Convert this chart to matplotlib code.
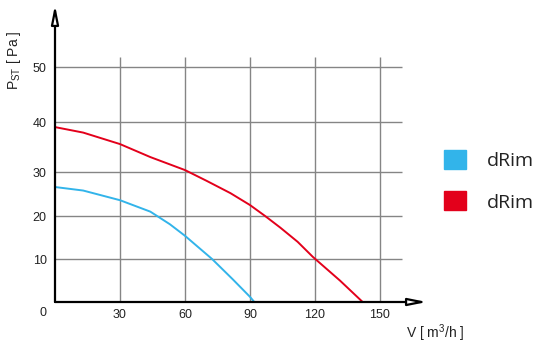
import numpy as np
import matplotlib
matplotlib.use('Agg')
import matplotlib.pyplot as plt
from matplotlib.patches import Patch

# Kurven (V in m3/h, P in Pa)
red_v = [0, 13, 30, 44, 60, 70, 81, 90, 97, 104, 112, 119, 131.5, 142]
red_p = [39.0, 37.9, 35.6, 33.0, 30.4, 28.0, 25.2, 22.5, 20.0, 17.3, 14.0, 10.5, 5.0, 0]
blue_v = [0, 13, 30, 44, 53, 60, 72.5, 82, 90, 92]
blue_p = [26.6, 25.8, 23.6, 21.0, 18.1, 15.4, 10.0, 5.3, 1.2, 0]

series_names = ['dRim', 'dRim']
series_colors = ['#32b4ea', '#e3001b']

x_ticks = [30, 60, 90, 120, 150]
y_ticks = [10, 20, 30, 40, 50]

# the drawing has uneven spacing on the P axis
y_vals = [0, 10, 20, 30, 40, 50, 60, 70]
y_pos = [0, 43, 86, 130, 180, 235, 290, 345]

def fwd(v):
    return np.interp(v, y_vals, y_pos)

def inv(p):
    return np.interp(p, y_pos, y_vals)

plt.rcParams['font.family'] = ['Liberation Sans', 'DejaVu Sans']

fig = plt.figure(figsize=(5.4, 3.47), dpi=100)
ax = fig.add_axes([55 / 540, 45 / 347, 372 / 540, 297 / 347])
ax.set_yscale('function', functions=(fwd, inv))
ax.set_xlim(0, 171.7)
ax.set_ylim(0, 61.3)

# Gitter
ax.vlines(x_ticks, 0, 51.8, color='#858585', lw=1, zorder=1)
ax.hlines(y_ticks, 0, 160, color='#858585', lw=1, zorder=1)

ax.plot(blue_v, blue_p, color=series_colors[0], lw=1.4, zorder=3, solid_joinstyle='round')
ax.plot(red_v, red_p, color=series_colors[1], lw=1.4, zorder=3, solid_joinstyle='round')

for s in ax.spines.values():
    s.set_visible(False)

arrow = dict(arrowstyle='-|>,head_length=1.1,head_width=0.22', fc='white',
             ec='black', lw=1.6, shrinkA=0, shrinkB=0)
ax.annotate('', xy=(1, 0), xytext=(0, 0), xycoords='axes fraction', arrowprops=arrow)
ax.annotate('', xy=(0, 1), xytext=(0, 0), xycoords='axes fraction', arrowprops=arrow)

ax.set_xticks(x_ticks)
ax.set_xticklabels([str(t) for t in x_ticks])
ax.set_yticks(y_ticks)
ax.set_yticklabels([str(t) for t in y_ticks])
ax.tick_params(axis='both', length=0, labelsize=9, colors='#222222')
ax.tick_params(axis='x', pad=5)
ax.tick_params(axis='y', pad=6)
ax.minorticks_off()

fig.text(43 / 540, 1 - 313 / 347, '0', ha='center', va='center', fontsize=9, color='#222222')
fig.text(14 / 540, 1 - 60 / 347, r'P$_{\mathregular{ST}}$ [ Pa ]', rotation=90,
         ha='center', va='center', fontsize=10, color='#222222')
fig.text(435 / 540, 1 - 333 / 347, r'V [ m$^{\mathregular{3}}$/h ]', ha='center', va='center',
         fontsize=10, color='#222222')

handles = [Patch(facecolor=c, edgecolor=c) for c in series_colors]
leg = fig.legend(handles, series_names, loc='upper left', bbox_to_anchor=(444 / 540, 1 - 150 / 347),
                 frameon=False, borderpad=0, borderaxespad=0, handlelength=1.12, handleheight=1.12,
                 handletextpad=1.1, labelspacing=1.1, prop={'family': 'Open Sans', 'size': 14})
for t in leg.get_texts():
    t.set_color('#222222')

fig.savefig('out.png', dpi=100)
